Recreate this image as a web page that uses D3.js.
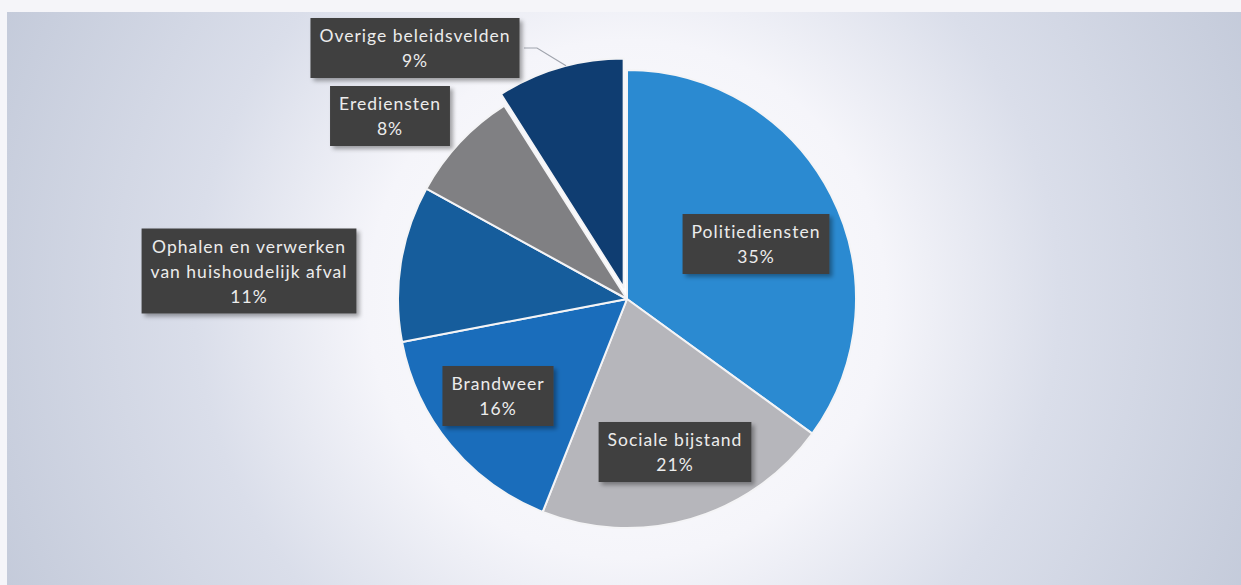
<!DOCTYPE html>
<html><head><meta charset="utf-8">
<script src="https://cdn.jsdelivr.net/npm/d3@7"></script>
<style>html,body{margin:0;padding:0;background:#f5f5f9;overflow:hidden}</style>
</head><body>
<svg id="chart" width="1241" height="585"></svg>
<script>
// ---- data ----
const categories = ["Politiediensten","Sociale bijstand","Brandweer","Ophalen en verwerken van huishoudelijk afval","Erediensten","Overige beleidsvelden"];
const values = [35, 21, 16, 11, 8, 9];
const labelLines = [["Politiediensten"],["Sociale bijstand"],["Brandweer"],["Ophalen en verwerken","van huishoudelijk afval"],["Erediensten"],["Overige beleidsvelden"]];
const colors = ["#2b8ad1","#b6b6bb","#1a6dbb","#165d9c","#808083","#0f3d71"];

// ---- layout ----
const W = 1241, H = 585;
const cx = 627, cy = 299, R = 229;
const explode = [0,0,0,0,0,12];
const labelCenter = [[756,244],[675,452],[498,396],[249,271],[390,116],[415,48]];

const svg = d3.select("#chart");
const defs = svg.append("defs");
const g1 = defs.append("radialGradient").attr("id","bg").attr("gradientUnits","userSpaceOnUse")
  .attr("cx",cx).attr("cy",cy).attr("r",720);
g1.append("stop").attr("offset","0%").attr("stop-color","#ffffff");
g1.append("stop").attr("offset","36%").attr("stop-color","#f5f5fa");
g1.append("stop").attr("offset","60%").attr("stop-color","#dadeea");
g1.append("stop").attr("offset","100%").attr("stop-color","#c1c8d8");
const f = defs.append("filter").attr("id","sh").attr("x","-10%").attr("y","-10%").attr("width","130%").attr("height","140%");
f.append("feDropShadow").attr("dx",3).attr("dy",3).attr("stdDeviation",2).attr("flood-color","#000").attr("flood-opacity",0.35);

svg.append("rect").attr("x",0).attr("y",0).attr("width",W).attr("height",H).attr("fill","#f5f5f9");
svg.append("rect").attr("x",7).attr("y",12).attr("width",W-7).attr("height",H-12).attr("fill","url(#bg)");

const pie = d3.pie().sort(null).value(d=>d)(values);
const arc = d3.arc().innerRadius(0).outerRadius(R);

const gp = svg.append("g").attr("transform",`translate(${cx},${cy})`);
gp.selectAll("path").data(pie).join("path")
  .attr("d",arc)
  .attr("fill",(d,i)=>colors[i])
  .attr("stroke","#f4f4f6").attr("stroke-width",2).attr("stroke-linejoin","round")
  .attr("transform",(d,i)=>{
    const a=(d.startAngle+d.endAngle)/2;
    return `translate(${Math.sin(a)*explode[i]},${-Math.cos(a)*explode[i]})`;
  });

// leader line for Overige
{
  const d = pie[5], i = 5;
  const a=(d.startAngle+d.endAngle)/2;
  const ox=Math.sin(a)*explode[i], oy=-Math.cos(a)*explode[i];
  const pa = d.startAngle + (d.endAngle-d.startAngle)*0.55;
  const px = cx+ox+Math.sin(pa)*R, py = cy+oy-Math.cos(pa)*R;
  svg.append("path").attr("d",`M${px},${py} L537,48 L524,48`).attr("fill","none").attr("stroke","#a0a4ad").attr("stroke-width",1.2);
}

const lineH = 25;
const gl = svg.append("g").style("font-family","Lato, 'Open Sans', sans-serif").style("font-size","17.5px");
labelLines.forEach((lines,i)=>{
  const all = lines.concat([Math.round(values[i]/d3.sum(values)*100)+"%"]);
  const [lx,ly] = labelCenter[i];
  const g = gl.append("g");
  const box = g.append("rect").attr("fill","#404040").attr("filter","url(#sh)");
  let maxW = 0;
  const n = all.length;
  all.forEach((t,k)=>{
    const tx = g.append("text").attr("x",lx).attr("y",ly+(k-(n-1)/2)*lineH)
      .attr("text-anchor","middle").attr("dominant-baseline","central")
      .attr("fill","#ececec").style("letter-spacing","1px").text(t);
    maxW = Math.max(maxW, tx.node().getComputedTextLength());
  });
  const bw = maxW+18, bh = n*lineH+10;
  box.attr("x",lx-bw/2).attr("y",ly-bh/2).attr("width",bw).attr("height",bh);
});
</script>
</body></html>
